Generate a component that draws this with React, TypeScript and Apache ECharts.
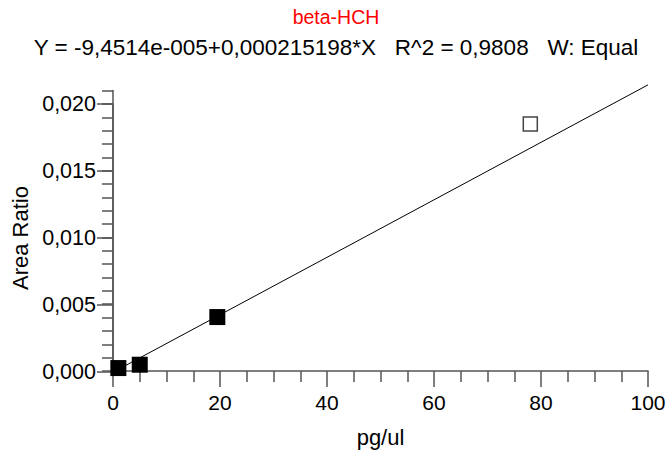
import React, { useEffect, useRef } from "react";
import * as echarts from "echarts";

const titleText = "beta-HCH";
const equationText = "Y = -9,4514e-005+0,000215198*X   R^2 = 0,9808   W: Equal";
const xName = "pg/ul";
const yName = "Area Ratio";

// calibration points (used)
const usedX = [1, 5, 19.5];
const usedY = [0.00022, 0.00047, 0.00404];
// excluded point (hollow)
const excludedX = [78];
const excludedY = [0.0185];
// fitted line end points
const fitX = [0, 100];
const fitY = [-0.0000945, 0.02143];

const fmt = (v: number, d: number) => v.toFixed(d).replace(".", ",");

export default function App() {
  const ref = useRef<HTMLDivElement>(null);
  useEffect(() => {
    if (!ref.current) return;
    const chart = echarts.init(ref.current, null, { renderer: "svg" });
    const left = 113, right = 24, bottom = 81;
    const y0 = 372; // pixel of zero
    const pxPer = 67 / 0.005;
    const top1 = y0 - 0.021 * pxPer;
    const top2 = y0 - 0.02 * pxPer;
    const font = "Liberation Sans, Arial, sans-serif";
    const axisColor = "#555";
    chart.setOption({
      animation: false,
      backgroundColor: "#fff",
      textStyle: { fontFamily: font },
      title: [
        { text: titleText, left: "center", top: 2, textStyle: { color: "#ff0000", fontSize: 19.5, fontWeight: "normal", fontFamily: font } },
        { text: equationText, left: "center", top: 31, textStyle: { color: "#000", fontSize: 22.5, fontWeight: "normal", fontFamily: font } },
      ],
      grid: [
        { left, right, bottom, top: top1, containLabel: false },
        { left, right, bottom, top: top2, containLabel: false },
      ],
      xAxis: [
        {
          type: "value", gridIndex: 0, min: 0, max: 100, interval: 20,
          name: xName, nameLocation: "middle", nameGap: 55,
          nameTextStyle: { color: "#000", fontSize: 22, fontFamily: font },
          axisLine: { show: true, onZero: false, lineStyle: { color: axisColor, width: 1.5 } },
          axisTick: { show: true, length: 16, lineStyle: { color: axisColor, width: 1.5 } },
          minorTick: { show: true, splitNumber: 4, length: 11, lineStyle: { color: axisColor, width: 1.5 } },
          axisLabel: { color: "#000", fontSize: 21, margin: 21, fontFamily: font },
          splitLine: { show: false },
        },
        { type: "value", gridIndex: 1, min: 0, max: 100, show: false },
      ],
      yAxis: [
        {
          type: "value", gridIndex: 0, min: 0, max: 0.021, interval: 0.001,
          axisLine: { show: true, onZero: false, lineStyle: { color: axisColor, width: 1.5 } },
          axisTick: { show: true, length: 11, lineStyle: { color: axisColor, width: 1.5 } },
          axisLabel: { show: false },
          splitLine: { show: false },
        },
        {
          type: "value", gridIndex: 1, min: 0, max: 0.02, interval: 0.005,
          name: yName, nameLocation: "middle", nameGap: 74,
          nameTextStyle: { color: "#000", fontSize: 22, fontFamily: font },
          axisLine: { show: true, onZero: false, lineStyle: { color: axisColor, width: 1.5 } },
          axisTick: { show: true, length: 16, lineStyle: { color: axisColor, width: 1.5 } },
          axisLabel: { color: "#000", fontSize: 21.5, margin: 17, fontFamily: font, formatter: (v: number) => fmt(v, 3) },
          splitLine: { show: false },
        },
      ],
      series: [
        {
          type: "line", xAxisIndex: 0, yAxisIndex: 0, clip: false, symbol: "none",
          data: fitX.map((x, i) => [x, fitY[i]]),
          lineStyle: { color: "#000", width: 1 }, z: 1,
        },
        {
          type: "scatter", xAxisIndex: 0, yAxisIndex: 0, symbol: "rect", symbolSize: 16,
          data: usedX.map((x, i) => [x, usedY[i]]),
          itemStyle: { color: "#000", opacity: 1 }, z: 3,
        },
        {
          type: "scatter", xAxisIndex: 0, yAxisIndex: 0, symbol: "rect", symbolSize: 14,
          data: excludedX.map((x, i) => [x, excludedY[i]]),
          itemStyle: { color: "#fff", borderColor: "#444", borderWidth: 1.5, opacity: 1 }, z: 3,
        },
      ],
    });
    return () => chart.dispose();
  }, []);
  return <div ref={ref} style={{ width: 672, height: 453, position: "absolute", left: 0, top: 0 }} />;
}
